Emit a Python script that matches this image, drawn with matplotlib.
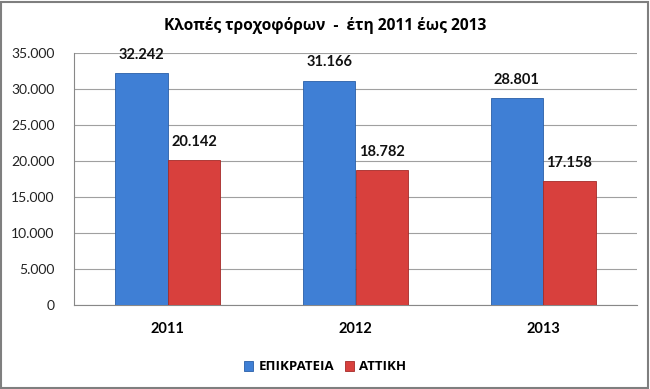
import matplotlib
matplotlib.use("Agg")
import matplotlib.pyplot as plt
import numpy as np
from matplotlib.patches import Rectangle
from matplotlib.ticker import FuncFormatter

years = ["2011", "2012", "2013"]
epikrateia = [32242, 31166, 28801]
attiki = [20142, 18782, 17158]
series_names = ["ΕΠΙΚΡΑΤΕΙΑ", "ΑΤΤΙΚΗ"]
title = "Κλοπές τροχοφόρων  -  έτη 2011 έως 2013"

plt.rcParams['font.family'] = ['Lato', 'DejaVu Sans']
greek_family = ['Open Sans', 'DejaVu Sans']

fig = plt.figure(figsize=(6.5, 3.89), dpi=100)
ax = fig.add_axes([74/650, 1-305/389, (637-74)/650, (305-53)/389])

x = np.arange(len(years))
w = 0.28
blue = '#3F7FD5'
red = '#D8403D'
b1 = ax.bar(x - w/2, epikrateia, w, color=blue, edgecolor='#2A5FA8', linewidth=0.6, label=series_names[0], zorder=3)
b2 = ax.bar(x + w/2, attiki, w, color=red, edgecolor='#A52B28', linewidth=0.6, label=series_names[1], zorder=3)

def fmt(v):
    return f"{int(v):,}".replace(",", ".")

for bars in (b1, b2):
    for r in bars:
        h = r.get_height()
        ax.annotate(fmt(h), (r.get_x() + r.get_width()/2, h), xytext=(0, 8), textcoords='offset points',
                    ha='center', va='bottom', fontsize=10.5, fontweight='bold', color='#111111')

ax.set_xlim(-0.5, 2.5)
ax.set_ylim(0, 35000)
ax.set_yticks(np.arange(0, 35001, 5000))
ax.yaxis.set_major_formatter(FuncFormatter(lambda v, p: fmt(v)))
ax.set_xticks(x)
ax.set_xticklabels(years, fontweight='bold', fontsize=10.5)
ax.tick_params(axis='y', length=0, labelsize=10, pad=14, colors='#222222')
ax.tick_params(axis='x', length=0, pad=12)
ax.grid(axis='y', color='#A0A0A0', linewidth=0.8, zorder=0)
for s in ['top', 'right']:
    ax.spines[s].set_visible(False)
ax.spines['left'].set_color('#888888')
ax.spines['bottom'].set_color('#888888')

fig.text(0.5, 1-25/389, title, ha='center', va='center', fontsize=11.2, fontweight='bold', family=greek_family)
fig.legend(handles=[b1, b2], labels=series_names, loc='center', bbox_to_anchor=(0.5, 1-367/389),
           ncol=2, frameon=False, prop={'weight': 'bold', 'size': 9.5, 'family': greek_family},
           handlelength=0.7, handleheight=0.7, columnspacing=0.8, handletextpad=0.4)

fig.patches.append(Rectangle((1/650, 1/389), 1-3/650, 1-3/389, transform=fig.transFigure,
                             fill=False, edgecolor='#7F7F7F', linewidth=1.5))
fig.savefig('out.png', dpi=100)
